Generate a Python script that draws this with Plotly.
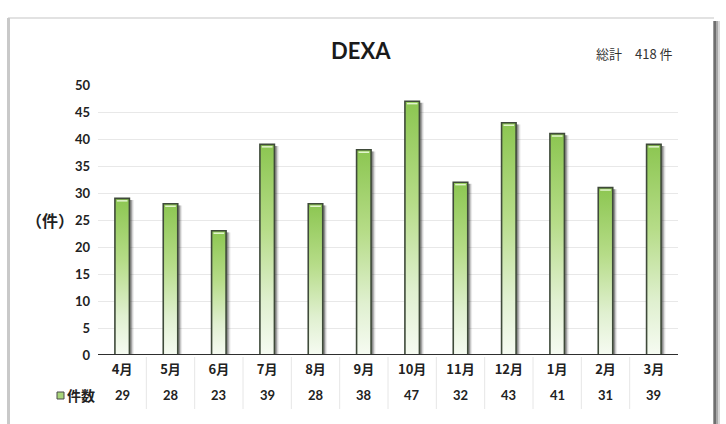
import plotly.graph_objects as go

# Monthly DEXA exam counts (fiscal year April -> March)
months = ["4月", "5月", "6月", "7月", "8月", "9月", "10月", "11月", "12月", "1月", "2月", "3月"]
counts = [29, 28, 23, 39, 28, 38, 47, 32, 43, 41, 31, 39]
title_text = "DEXA"
total_label = "総計\u3000" + str(sum(counts)) + " 件"
y_title = "（件）"
series_name = "件数"

W, H = 726, 424
M_L, M_R, M_T, M_B = 98, 48, 85, 69
PW, PH = W - M_L - M_R, H - M_T - M_B

def px(x):
    return (x - M_L) / PW

def py(y):
    return (H - M_B - y) / PH

BAR_W = 0.30
LABEL_FONT = "Lato, 'Noto Sans CJK JP', sans-serif"
CJK_FONT = "'Noto Sans CJK JP', Lato, sans-serif"

fig = go.Figure()

xs = list(range(len(months)))

# soft drop shadow on the right side of every bar
for i, v in zip(xs, counts):
    for dx, a in [(0.09, 0.10), (0.065, 0.20), (0.045, 0.34)]:
        x0 = i + BAR_W / 2 - 0.01
        x1 = i + BAR_W / 2 + dx
        fig.add_trace(go.Scatter(
            x=[x0, x0, x1, x1, x0], y=[0, v - 0.3, v - 0.3, 0, 0],
            mode="lines", line=dict(width=0), fill="toself",
            fillcolor=f"rgba(40,40,40,{a})", hoverinfo="skip", showlegend=False))

# gradient-filled bars: green at the top fading to white at the base
for i, v in zip(xs, counts):
    x0, x1 = i - BAR_W / 2, i + BAR_W / 2
    fig.add_trace(go.Scatter(
        x=[x0, x0, x1, x1, x0], y=[0, v, v, 0, 0],
        mode="lines", line=dict(color="#3f4a3a", width=1.6),
        fill="toself",
        fillgradient=dict(type="vertical",
                          colorscale=[[0, "#f6fbf2"], [0.25, "#e0f0d0"],
                                      [0.6, "#b6dc88"], [1, "#8cc651"]]),
        name=months[i], hoverinfo="skip", showlegend=False))
    # bevel highlight along the top edge
    fig.add_trace(go.Scatter(
        x=[x0 + 0.04, x1 - 0.04], y=[v - 0.45, v - 0.45],
        mode="lines", line=dict(color="rgba(235,248,220,0.9)", width=1.5),
        hoverinfo="skip", showlegend=False))

shapes = []
# data-table separators between months
for i in xs[:-1]:
    shapes.append(dict(type="line", xref="x", yref="paper",
                       x0=i + 0.5, x1=i + 0.5, y0=py(357), y1=py(409),
                       line=dict(color="#e6e6e6", width=1)))
# x axis base line
shapes.append(dict(type="line", xref="paper", yref="y", x0=0, x1=1, y0=0, y1=0,
                   line=dict(color="#2e2e2e", width=2)))
# outer frame: light top and left edges, dark shaded right edge
shapes.append(dict(type="line", xref="paper", yref="paper",
                   x0=px(8), x1=px(714), y0=py(18), y1=py(18),
                   line=dict(color="#e2e2e2", width=2)))
shapes.append(dict(type="line", xref="paper", yref="paper",
                   x0=px(8.5), x1=px(8.5), y0=py(18), y1=py(H + 2),
                   line=dict(color="#c9c9c9", width=3)))
for xx, c, w in [(719, "#d8d8d8", 2), (717, "#a8a8a8", 2), (715, "#6f6f6f", 2), (713.5, "#9a9a9a", 1)]:
    shapes.append(dict(type="line", xref="paper", yref="paper",
                       x0=px(xx), x1=px(xx), y0=py(21), y1=py(H + 2),
                       line=dict(color=c, width=w)))
# legend key in front of the table row
shapes.append(dict(type="rect", xref="paper", yref="paper",
                   x0=px(57), x1=px(64), y0=py(399), y1=py(392),
                   fillcolor="#a8d57a", line=dict(color="#4a4a4a", width=1)))

def note(x, y, text, font, xref="paper"):
    return dict(x=x, y=y, xref=xref, yref="paper", text=text, showarrow=False,
                xanchor="center", yanchor="middle", font=font)

annotations = []
for i, v in zip(xs, counts):
    annotations.append(note(i, py(395), f"<b>{v}</b>",
                            dict(family=LABEL_FONT, size=13, color="#222222"), xref="x"))
annotations += [
    note(px(81), py(395), "<b>" + series_name + "</b>",
         dict(family=CJK_FONT, size=14, color="#222222")),
    note(px(361), py(50), "<b>" + title_text + "</b>",
         dict(family=LABEL_FONT, size=22, color="#1a1a1a")),
    note(px(634), py(54), total_label,
         dict(family=CJK_FONT, size=13, color="#333333")),
    note(px(50), py(220), "<b>" + y_title + "</b>",
         dict(family=CJK_FONT, size=16, color="#222222")),
]

fig.update_layout(
    width=W, height=H,
    margin=dict(l=M_L, r=M_R, t=M_T, b=M_B),
    paper_bgcolor="white", plot_bgcolor="white",
    showlegend=False,
    xaxis=dict(range=[-0.5, len(months) - 0.5], tickmode="array", tickvals=xs,
               ticktext=[f"<b>{m}</b>" for m in months],
               tickfont=dict(family=CJK_FONT, size=13, color="#222222"),
               showgrid=False, zeroline=False, showline=False, ticks="",
               ticklabelstandoff=5, fixedrange=True),
    yaxis=dict(range=[0, 50], dtick=5, tickmode="linear", tick0=0,
               tickfont=dict(family=LABEL_FONT, size=13, color="#222222"),
               showgrid=True, gridcolor="#e8e8e8", gridwidth=1,
               zeroline=False, showline=False, ticks="",
               ticklabelstandoff=7, tickprefix="<b>", ticksuffix="</b>",
               fixedrange=True),
    shapes=shapes,
    annotations=annotations,
)

fig.write_html("out.html")
